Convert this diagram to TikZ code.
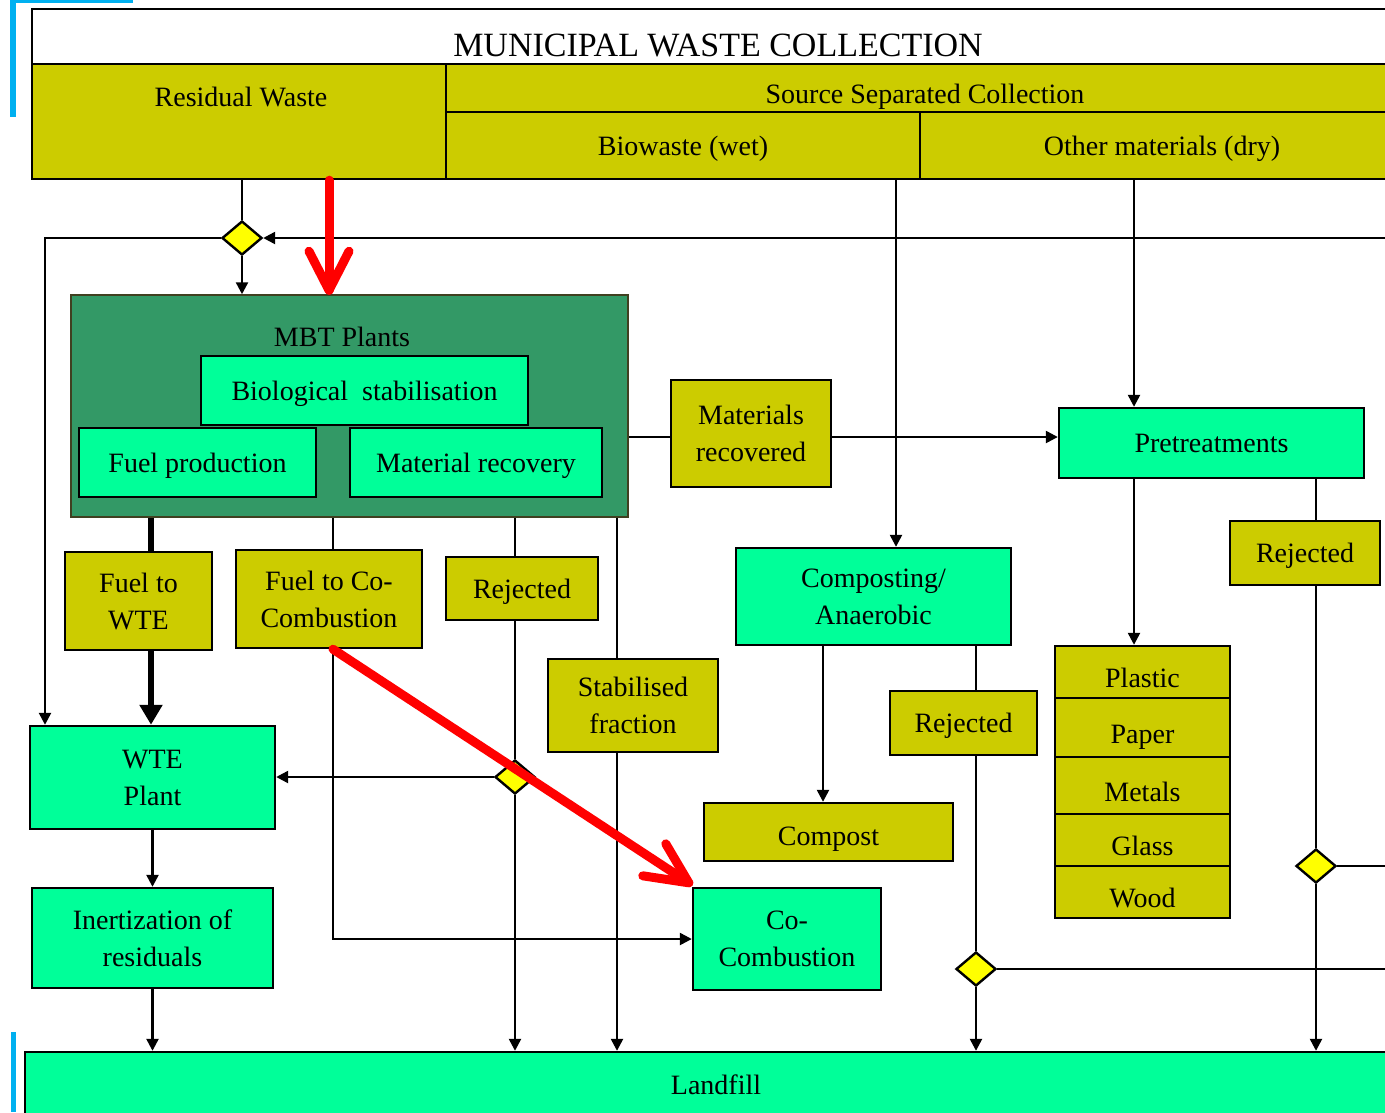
\documentclass[tikz,border=0pt]{standalone}
\usepackage{fontspec}
\setmainfont{Liberation Serif}
\usetikzlibrary{shapes.geometric,arrows.meta,calc}
\definecolor{olivebox}{RGB}{204,204,0}
\definecolor{greenbox}{RGB}{0,255,153}
\definecolor{mbtgreen}{RGB}{51,153,102}
\definecolor{diayellow}{RGB}{255,255,0}
\definecolor{bluemark}{RGB}{0,176,240}
\definecolor{mbtedge}{RGB}{64,64,32}
\newcommand\mkbox[7]{\node[#6, minimum width={#4-#2}, minimum height={#5-#3}] (#1) at ({(#2+#4)/2},{(#3+#5)/2}) {#7};}
\tikzset{
  base/.style={draw=black, line width=2.4pt, inner sep=0pt, align=center, text depth=0pt, font=\fontsize{28}{37}\selectfont},
  ob/.style={base, fill=olivebox},
  gb/.style={base, fill=greenbox},
  lowtext/.style={text height=31pt},
  dia/.style={diamond, draw=black, line width=2.4pt, fill=diayellow, inner sep=0pt, minimum width=40pt, minimum height=34pt},
  conn/.style={draw=black, line width=2.4pt},
  arr/.style={conn, -{Triangle[length=12pt,width=12pt]}},
  thk/.style={draw=black, line width=6pt},
  thkarr/.style={thk, -{Triangle[length=20pt,width=22pt]}},
  redarr/.style={draw=red, line width=9pt, line cap=round, line join=round},
  lbl/.style={inner sep=0pt, font=\fontsize{28}{37}\selectfont, align=center},
  bluebar/.style={draw=bluemark}
}
\begin{document}
\begin{tikzpicture}[x=1pt,y=-1pt]
\useasboundingbox (0,0) rectangle (1385,1112);
\clip (0,0) rectangle (1385,1112);
\fill[white] (0,0) rectangle (1385,1112);

% header
\mkbox{title}{32}{9}{1404}{64}{base,fill=white}{}
\node[lbl, font=\fontsize{34}{40}\selectfont] (titletext) at (718,45) {MUNICIPAL WASTE COLLECTION};
\mkbox{resid}{32}{64}{446}{179}{ob}{}
\node[lbl] (residtext) at (241,97) {Residual Waste};
\mkbox{ssc}{446}{64}{1404}{112}{ob}{}
\node[lbl] (ssctext) at (925,97) {Source Separated Collection};
\mkbox{bio}{446}{112}{920}{179}{ob}{Biowaste (wet)}
\mkbox{dry}{920}{112}{1404}{179}{ob}{Other materials (dry)}

% MBT
\mkbox{mbt}{71}{295}{628}{517}{base, fill=mbtgreen, draw=mbtedge, line width=1.5pt}{}
\node[lbl] (mbttext) at (342,337) {MBT Plants};
\mkbox{biostab}{201}{356}{528}{425}{gb}{Biological\ \ stabilisation}
\mkbox{fuelprod}{79}{428}{316}{497}{gb}{Fuel production}
\mkbox{matrec}{350}{428}{602}{497}{gb}{Material recovery}

% other boxes
\mkbox{matrecd}{671}{380}{831}{487}{ob}{Materials\\recovered}
\mkbox{pret}{1059}{408}{1364}{478}{gb}{Pretreatments}
\mkbox{fuelwte}{65}{552}{212}{650}{ob}{Fuel to\\WTE}
\mkbox{ftcc}{236}{550}{422}{648}{ob}{Fuel to Co-\\Combustion}
\mkbox{rej1}{446}{557}{598}{620}{ob}{Rejected}
\mkbox{stab}{548}{659}{718}{752}{ob}{Stabilised\\fraction}
\mkbox{comp}{736}{548}{1011}{645}{gb}{Composting/\\Anaerobic}
\mkbox{rej2}{890}{691}{1037}{755}{ob}{Rejected}
\mkbox{rej3}{1230}{521}{1380}{585}{ob}{Rejected}
\mkbox{compost}{704}{803}{953}{861}{ob,text height=27pt}{Compost}
\mkbox{plastic}{1055}{646}{1230}{698}{ob,lowtext}{Plastic}
\mkbox{paper}{1055}{698}{1230}{757}{ob,lowtext}{Paper}
\mkbox{metals}{1055}{757}{1230}{814}{ob,lowtext}{Metals}
\mkbox{glass}{1055}{814}{1230}{866}{ob,lowtext}{Glass}
\mkbox{wood}{1055}{866}{1230}{918}{ob,lowtext}{Wood}
\mkbox{wte}{30}{726}{275}{829}{gb}{WTE\\Plant}
\mkbox{inert}{32}{888}{273}{988}{gb}{Inertization of\\residuals}
\mkbox{cocomb}{693}{888}{881}{990}{gb}{Co-\\Combustion}
\mkbox{landfill}{25}{1052}{1404}{1130}{gb}{}
\node[lbl] (landtext) at (716,1085) {Landfill};

% reference coordinates
\coordinate (x45) at (45,0);
\coordinate (x151) at (151,0);
\coordinate (x333) at (333,0);
\coordinate (x515) at (515,0);
\coordinate (x617) at (617,0);
\coordinate (x823) at (823,0);
\coordinate (x896) at (896,0);
\coordinate (x976) at (976,0);
\coordinate (x1134) at (1134,0);
\coordinate (x1316) at (1316,0);
\coordinate (xr1) at (329,0);
\coordinate (y437) at (0,437);
\coordinate (rin) at (1400,238);
\coordinate (r4) at (1400,866);
\coordinate (r3) at (1400,969);

% connectors
\node[dia] (d1) at (242,238) {};
\node[dia] (d4) at (1316,866) {};
\node[dia] (d3) at (976,969) {};
\draw[conn] (resid.south -| d1) -- (d1.north);
\draw[arr] (d1.south) -- (d1.south |- mbt.north);
\draw[arr] (rin) -- (d1.east);
\draw[arr] (d1.west) -| (x45 |- wte.north);
\draw[conn] (mbt.east |- y437) -- (matrecd.west |- y437);
\draw[arr] (matrecd.east |- y437) -- (pret.west |- y437);
\draw[arr] (dry.south -| x1134) -- (pret.north -| x1134);
\draw[arr] (bio.south -| x896) -- (comp.north -| x896);
\draw[arr] (pret.south -| x1134) -- (plastic.north -| x1134);
\draw[conn] (pret.south -| x1316) -- (rej3.north -| x1316);
\draw[conn] (rej3.south -| x1316) -- (d4.north);
\draw[arr] (d4.south) -- (d4.south |- landfill.north);
\draw[conn] (d4.east) -- (r4);
\draw[arr] (comp.south -| x823) -- (compost.north -| x823);
\draw[conn] (comp.south -| x976) -- (rej2.north -| x976);
\draw[conn] (rej2.south -| x976) -- (d3.north);
\draw[arr] (d3.south) -- (d3.south |- landfill.north);
\draw[conn] (d3.east) -- (r3);
\draw[thk] (mbt.south -| x151) -- (fuelwte.north -| x151);
\draw[thkarr] (fuelwte.south -| x151) -- (wte.north -| x151);
\draw[conn] (mbt.south -| x333) -- (ftcc.north -| x333);
\draw[arr] (ftcc.south -| x333) |- (cocomb.west);
\draw[conn] (mbt.south -| x515) -- (rej1.north -| x515);
\node[dia] (d2) at (515,777) {};
\draw[conn] (rej1.south -| x515) -- (d2.north);
\draw[arr] (d2.south) -- (d2.south |- landfill.north);
\draw[arr] (d2.west) -- (d2.west -| wte.east);
\draw[conn] (mbt.south -| x617) -- (stab.north -| x617);
\draw[arr] (stab.south -| x617) -- (landfill.north -| x617);
\draw[arr] (wte.south) -- (inert.north);
\draw[arr] (inert.south) -- (landfill.north -| inert.south);

% red arrows
\coordinate (r1tip) at ($(mbt.north -| xr1)+(0,-4)$);
\draw[redarr] (resid.south -| xr1) -- (r1tip);
\draw[redarr] ($(r1tip)+(-20,-39)$) -- (r1tip) -- ($(r1tip)+(20,-39)$);
\coordinate (r2tip) at ($(cocomb.north west)+(-3,-4)$);
\draw[redarr] (ftcc.south -| x333) -- (r2tip);
\draw[redarr] ($(r2tip)+(-46,-7)$) -- (r2tip) -- ($(r2tip)+(-23,-39)$);

% blue screen marks
\draw[bluebar, line width=6pt] (13,0) -- (13,117);
\draw[bluebar, line width=3pt] (10,1.5) -- (133,1.5);
\draw[bluebar, line width=5pt] (13,1032) -- (13,1112);
\end{tikzpicture}
\end{document}
